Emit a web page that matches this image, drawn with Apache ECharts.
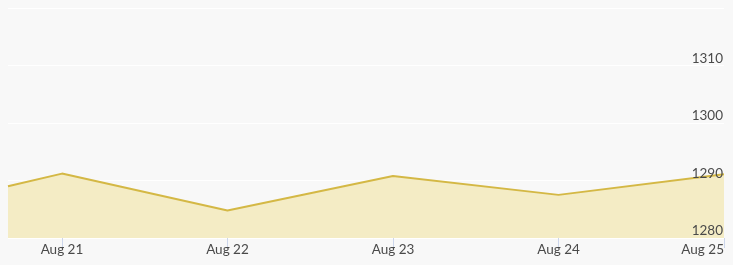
<!DOCTYPE html>
<html>
<head>
<meta charset="utf-8">
<script src="https://cdn.jsdelivr.net/npm/echarts@6/dist/echarts.min.js"></script>
<style>
html,body{margin:0;padding:0;background:#f8f8f8;}
#c{width:733px;height:265px;}
</style>
</head>
<body>
<div id="c"></div>
<script>
// Data: x = day of August (fractional), y = value
var days = [20.674, 21, 22, 23, 24, 25];
var values = [1289.0, 1291.2, 1284.8, 1290.8, 1287.5, 1291.1];
var tickDays = [21, 22, 23, 24, 25];
var tickLabels = ["Aug 21", "Aug 22", "Aug 23", "Aug 24", "Aug 25"];
var yTicks = [1280, 1290, 1300, 1310];
var yMin = 1280, yMax = 1320, yStep = 10;

var seriesData = days.map(function(d,i){return [d, values[i]];});

var chart = echarts.init(document.getElementById('c'), null, {renderer:'canvas'});
chart.setOption({
  backgroundColor: '#f8f8f8',
  animation: false,
  grid: {left: 8, right: 9, top: 8, bottom: 27, containLabel: false},
  xAxis: {
    type: 'value',
    min: days[0],
    max: days[days.length-1],
    axisLine: {show: false},
    splitLine: {show: false},
    axisTick: {show: true, customValues: tickDays, length: 10, lineStyle: {color: '#ccd6eb', width: 1}},
    axisLabel: {
      customValues: tickDays,
      margin: 5,
      color: '#4a4a4a',
      fontFamily: 'Lato',
      fontSize: 13.5,
      alignMaxLabel: 'right',
      formatter: function(v){var i = tickDays.indexOf(Math.round(v)); return i >= 0 ? tickLabels[i] : '';}
    }
  },
  yAxis: [{
    type: 'value',
    position: 'right',
    min: yMin, max: yMax, interval: yStep,
    axisLine: {show: false},
    axisTick: {show: false},
    axisLabel: {show: false},
    splitLine: {show: true, lineStyle: {color: '#ffffff', width: 1}},
    z: 0
  }, {
    type: 'value',
    position: 'right',
    min: yMin, max: yMax, interval: yStep,
    axisLine: {show: false},
    axisTick: {show: false},
    splitLine: {show: false},
    z: 5,
    axisLabel: {
      customValues: yTicks,
      inside: true,
      margin: 1,
      showMinLabel: true,
      hideOverlap: false,
      color: '#4a4a4a',
      fontFamily: 'Lato',
      fontSize: 13.5,
      align: 'right',
      verticalAlign: 'bottom',
      formatter: function(v){return String(v);}
    }
  }],
  series: [{
    type: 'line',
    yAxisIndex: 0,
    data: seriesData,
    symbol: 'none',
    lineStyle: {color: '#d4b845', width: 2},
    areaStyle: {color: '#f4ecc5', opacity: 1},
    z: 1
  }]
});
</script>
</body>
</html>
